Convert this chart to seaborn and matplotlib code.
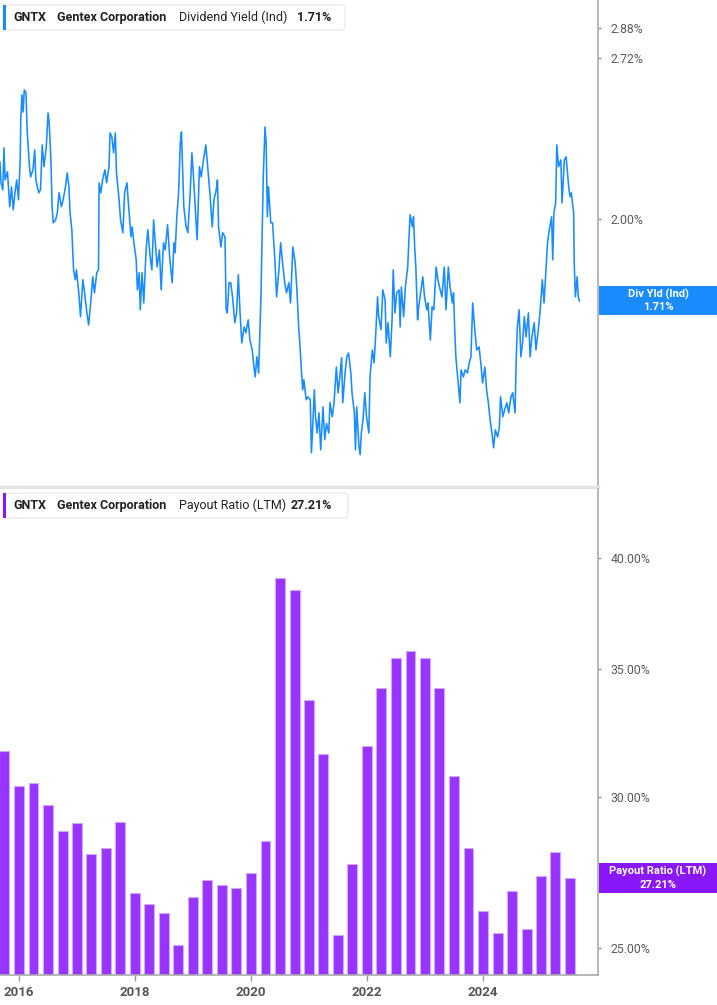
import pandas as pd
import matplotlib
matplotlib.use("Agg")
import matplotlib.pyplot as plt
import seaborn as sns
from matplotlib.patches import FancyBboxPatch, Rectangle
from matplotlib.ticker import NullLocator

# Dividend yield (indicated), % -- x in decimal years
div_years = [
    2015.67, 2015.69, 2015.72, 2015.74, 2015.76, 2015.80, 2015.82, 2015.84, 2015.87, 2015.90,
    2015.93, 2015.96, 2015.99, 2016.02, 2016.03, 2016.05, 2016.07, 2016.09, 2016.12, 2016.14,
    2016.18, 2016.20, 2016.24, 2016.27, 2016.29, 2016.34, 2016.37, 2016.40, 2016.43, 2016.47,
    2016.50, 2016.52, 2016.55, 2016.57, 2016.59, 2016.63, 2016.66, 2016.69, 2016.73, 2016.76,
    2016.80, 2016.83, 2016.86, 2016.88, 2016.91, 2016.94, 2016.97, 2016.99, 2017.03, 2017.06,
    2017.10, 2017.13, 2017.17, 2017.20, 2017.24, 2017.27, 2017.30, 2017.34, 2017.37, 2017.38,
    2017.41, 2017.44, 2017.48, 2017.51, 2017.55, 2017.57, 2017.60, 2017.63, 2017.66, 2017.68,
    2017.72, 2017.75, 2017.79, 2017.82, 2017.86, 2017.89, 2017.93, 2017.95, 2017.98, 2018.02,
    2018.04, 2018.07, 2018.09, 2018.12, 2018.15, 2018.19, 2018.22, 2018.26, 2018.29, 2018.32,
    2018.35, 2018.38, 2018.42, 2018.45, 2018.49, 2018.52, 2018.56, 2018.60, 2018.64, 2018.67,
    2018.69, 2018.72, 2018.75, 2018.78, 2018.80, 2018.82, 2018.84, 2018.88, 2018.91, 2018.95,
    2018.98, 2019.00, 2019.04, 2019.07, 2019.11, 2019.14, 2019.18, 2019.22, 2019.26, 2019.29,
    2019.33, 2019.36, 2019.40, 2019.42, 2019.44, 2019.48, 2019.51, 2019.55, 2019.57, 2019.59,
    2019.62, 2019.65, 2019.68, 2019.72, 2019.75, 2019.78, 2019.81, 2019.84, 2019.88, 2019.91,
    2019.95, 2019.98, 2020.02, 2020.05, 2020.07, 2020.10, 2020.13, 2020.17, 2020.19, 2020.21,
    2020.24, 2020.26, 2020.28, 2020.30, 2020.34, 2020.37, 2020.41, 2020.44, 2020.48, 2020.51,
    2020.55, 2020.58, 2020.61, 2020.65, 2020.68, 2020.72, 2020.76, 2020.79, 2020.82, 2020.84,
    2020.87, 2020.89, 2020.91, 2020.95, 2020.98, 2021.02, 2021.04, 2021.06, 2021.09, 2021.11,
    2021.14, 2021.17, 2021.20, 2021.24, 2021.27, 2021.30, 2021.34, 2021.36, 2021.40, 2021.43,
    2021.47, 2021.50, 2021.53, 2021.56, 2021.58, 2021.62, 2021.65, 2021.68, 2021.72, 2021.74,
    2021.78, 2021.80, 2021.82, 2021.86, 2021.88, 2021.90, 2021.93, 2021.96, 2021.99, 2022.03,
    2022.05, 2022.09, 2022.12, 2022.15, 2022.18, 2022.20, 2022.24, 2022.27, 2022.31, 2022.33,
    2022.36, 2022.40, 2022.43, 2022.45, 2022.48, 2022.51, 2022.55, 2022.57, 2022.59, 2022.63,
    2022.66, 2022.70, 2022.72, 2022.74, 2022.78, 2022.80, 2022.82, 2022.84, 2022.87, 2022.89,
    2022.93, 2022.96, 2022.99, 2023.03, 2023.05, 2023.09, 2023.12, 2023.15, 2023.19, 2023.22,
    2023.26, 2023.29, 2023.33, 2023.36, 2023.40, 2023.43, 2023.47, 2023.49, 2023.51, 2023.53,
    2023.57, 2023.60, 2023.62, 2023.66, 2023.69, 2023.73, 2023.76, 2023.79, 2023.82, 2023.86,
    2023.89, 2023.93, 2023.96, 2023.99, 2024.03, 2024.06, 2024.09, 2024.12, 2024.16, 2024.18,
    2024.21, 2024.25, 2024.28, 2024.30, 2024.34, 2024.37, 2024.41, 2024.44, 2024.48, 2024.51,
    2024.55, 2024.57, 2024.59, 2024.62, 2024.65, 2024.68, 2024.71, 2024.74, 2024.78, 2024.81,
    2024.84, 2024.88, 2024.91, 2024.95, 2024.98, 2025.02, 2025.05, 2025.09, 2025.11, 2025.14,
    2025.18, 2025.20, 2025.22, 2025.25, 2025.27, 2025.30, 2025.34, 2025.36, 2025.40, 2025.43,
    2025.45, 2025.48, 2025.50, 2025.52, 2025.56, 2025.57, 2025.59, 2025.62, 2025.64, 2025.66,
]
div_yield = [
    2.230, 2.142, 2.114, 2.290, 2.154, 2.188, 2.114, 2.047, 2.126, 2.035,
    2.102, 2.154, 2.074, 2.238, 2.415, 2.533, 2.452, 2.557, 2.543, 2.369,
    2.209, 2.167, 2.196, 2.281, 2.154, 2.102, 2.114, 2.303, 2.209, 2.294,
    2.447, 2.401, 2.238, 2.047, 1.985, 1.996, 2.023, 2.102, 2.047, 2.074,
    2.126, 2.183, 2.126, 2.023, 1.959, 1.815, 1.781, 1.815, 1.737, 1.660,
    1.781, 1.737, 1.672, 1.634, 1.714, 1.791, 1.737, 1.805, 1.815, 2.142,
    2.102, 2.154, 2.196, 2.142, 2.209, 2.356, 2.338, 2.268, 2.356, 2.183,
    2.086, 1.996, 1.948, 2.102, 2.142, 2.047, 1.933, 1.970, 1.911, 1.850,
    1.747, 1.805, 1.682, 1.805, 1.704, 1.885, 1.959, 1.860, 1.815, 1.996,
    1.911, 1.825, 1.885, 1.747, 1.911, 1.885, 1.978, 1.850, 1.771, 1.911,
    1.875, 2.008, 2.102, 2.312, 2.360, 2.196, 2.047, 1.970, 1.948, 2.102,
    2.268, 2.196, 2.035, 1.922, 2.209, 2.167, 2.238, 2.303, 2.183, 2.102,
    1.970, 2.074, 2.114, 2.154, 1.970, 1.896, 1.948, 1.933, 1.682, 1.672,
    1.771, 1.771, 1.724, 1.641, 1.672, 1.798, 1.672, 1.579, 1.628, 1.610,
    1.650, 1.588, 1.558, 1.508, 1.480, 1.538, 1.491, 1.724, 1.933, 2.167,
    2.383, 2.312, 2.008, 2.126, 1.985, 1.985, 1.850, 1.724, 1.815, 1.911,
    1.825, 1.771, 1.737, 1.771, 1.704, 1.896, 1.839, 1.747, 1.628, 1.579,
    1.491, 1.444, 1.472, 1.417, 1.425, 1.417, 1.281, 1.338, 1.444, 1.372,
    1.330, 1.382, 1.288, 1.398, 1.313, 1.354, 1.330, 1.409, 1.372, 1.409,
    1.508, 1.436, 1.480, 1.535, 1.409, 1.491, 1.538, 1.549, 1.491, 1.436,
    1.382, 1.288, 1.398, 1.296, 1.276, 1.330, 1.364, 1.436, 1.372, 1.330,
    1.480, 1.558, 1.520, 1.610, 1.724, 1.660, 1.619, 1.747, 1.714, 1.579,
    1.641, 1.538, 1.650, 1.815, 1.672, 1.737, 1.747, 1.628, 1.757, 1.660,
    1.757, 1.825, 1.922, 2.016, 1.970, 2.008, 1.896, 1.825, 1.650, 1.692,
    1.747, 1.791, 1.724, 1.682, 1.704, 1.588, 1.692, 1.682, 1.825, 1.781,
    1.747, 1.724, 1.825, 1.682, 1.825, 1.757, 1.704, 1.737, 1.619, 1.538,
    1.463, 1.409, 1.500, 1.480, 1.500, 1.491, 1.520, 1.538, 1.704, 1.610,
    1.558, 1.567, 1.520, 1.463, 1.508, 1.444, 1.409, 1.364, 1.320, 1.293,
    1.338, 1.320, 1.346, 1.425, 1.372, 1.390, 1.409, 1.382, 1.425, 1.436,
    1.382, 1.529, 1.628, 1.682, 1.538, 1.579, 1.660, 1.597, 1.672, 1.538,
    1.597, 1.641, 1.558, 1.619, 1.672, 1.781, 1.704, 1.839, 1.911, 1.959,
    2.008, 1.850, 2.023, 2.062, 2.303, 2.209, 2.238, 2.062, 2.238, 2.251,
    2.196, 2.114, 2.086, 2.102, 2.023, 1.839, 1.724, 1.791, 1.724, 1.710,
]

# Payout ratio (LTM), %, one bar per fiscal quarter end
quarter_ends = pd.date_range("2015-09-30", "2025-06-30", freq="QE")
payout_ratio = [
    31.70, 30.40, 30.50, 29.70, 28.80, 29.05, 27.99, 28.19, 29.09, 26.70,
    26.35, 26.08, 25.09, 26.59, 27.12, 26.96, 26.87, 27.36, 28.43, 39.06,
    38.47, 33.69, 31.60, 25.40, 27.65, 31.90, 34.20, 35.44, 35.76, 35.44,
    34.22, 30.75, 28.21, 26.13, 25.45, 26.78, 25.59, 27.27, 28.06, 27.21,
]

yield_ticks = [2.00, 2.72, 2.88]
payout_ticks = [25, 30, 35, 40]
year_ticks = [2016, 2018, 2020, 2022, 2024]

BLUE = "#1a8cff"
PURPLE = "#9933ff"
PURPLE_DARK = "#8a17f7"

sns.set_style("white")
plt.rcParams["font.family"] = ["Roboto", "DejaVu Sans"]

W, H = 717, 1005
fig = plt.figure(figsize=(W / 100, H / 100), dpi=100)


def px_box(x0, y0, x1, y1):
    return [x0 / W, 1 - y1 / H, (x1 - x0) / W, (y1 - y0) / H]


ax1 = fig.add_axes(px_box(0, 0, 598, 487))
ax2 = fig.add_axes(px_box(0, 489, 598, 975))
xlim = (2015.672, 2025.98)

# top: dividend yield line
sns.lineplot(x=div_years, y=div_yield, ax=ax1, color=BLUE, linewidth=1.15,
             estimator=None, sort=False)
ax1.set_yscale("log")
ax1.set_ylim(1.20, 3.035)
ax1.set_xlim(*xlim)
ax1.set_xticks([])

# bottom: payout ratio bars
qyears = [d.year + d.dayofyear / 365.25 for d in quarter_ends]
df = pd.DataFrame({"t": qyears, "ratio": payout_ratio})
sns.barplot(data=df, x="t", y="ratio", ax=ax2, native_scale=True, color=PURPLE,
            saturation=1, width=0.7, edgecolor="#cfa8ff", linewidth=0.8, errorbar=None)
ax2.set_yscale("log")
ax2.set_ylim(24.2, 43.47)
ax2.set_xlim(*xlim)
ax2.set_xticks(year_ticks)
ax2.set_xticklabels([str(y) for y in year_ticks], fontweight="bold", color="#555555", fontsize=9.5)
ax2.tick_params(axis="x", direction="out", length=4, width=1, color="#999999", pad=4, bottom=True)

for ax, ticks in ((ax1, yield_ticks), (ax2, payout_ticks)):
    ax.set_xlabel("")
    ax.set_ylabel("")
    ax.yaxis.tick_right()
    ax.yaxis.set_minor_locator(NullLocator())
    ax.set_yticks(ticks)
    ax.set_yticklabels([f"{t:.2f}%" for t in ticks])
    ax.tick_params(axis="y", which="major", direction="out", length=2, width=1,
                   color="#999999", labelcolor="#5a5a5a", labelsize=8.8, pad=7,
                   left=False, right=True)
    ax.spines["top"].set_visible(False)
    ax.spines["left"].set_visible(False)
    ax.spines["right"].set_color("#aaaaaa")
    ax.spines["right"].set_linewidth(1.2)
    ax.grid(False)

ax1.spines["bottom"].set_color("#e2e2e2")
ax1.spines["bottom"].set_linewidth(2.5)
ax2.spines["bottom"].set_color("#aaaaaa")
ax2.spines["bottom"].set_linewidth(1.2)


def legend_box(y0, y1, x1, color, parts):
    fig.patches.append(FancyBboxPatch((3 / W, 1 - y1 / H), (x1 - 3) / W, (y1 - y0) / H,
                                      boxstyle="round,pad=0,rounding_size=0.004",
                                      transform=fig.transFigure, facecolor="white",
                                      edgecolor="#e6e6e6", linewidth=0.8, zorder=5))
    fig.patches.append(Rectangle((3 / W, 1 - y1 / H), 3 / W, (y1 - y0) / H,
                                 transform=fig.transFigure, facecolor=color,
                                 edgecolor="none", zorder=6))
    yc = 1 - (y0 + y1) / 2 / H
    for x, text, weight in parts:
        fig.text(x / W, yc, text, fontsize=9, fontweight=weight, color="#222222",
                 ha="left", va="center", zorder=7)


def value_tag(y0, y1, color, line1, line2):
    fig.patches.append(Rectangle((599 / W, 1 - y1 / H), 118 / W, (y1 - y0) / H,
                                 transform=fig.transFigure, facecolor=color,
                                 edgecolor="none", zorder=5))
    yc = (y0 + y1) / 2
    fig.text(658 / W, 1 - (yc - 6.5) / H, line1, fontsize=8, fontweight="bold",
             color="white", ha="center", va="center", zorder=6)
    fig.text(658 / W, 1 - (yc + 6.5) / H, line2, fontsize=8, fontweight="bold",
             color="white", ha="center", va="center", zorder=6)


legend_box(5, 30, 345, BLUE, [(13, "GNTX", "bold"), (57, "Gentex Corporation", "bold"),
                              (179, "Dividend Yield (Ind)", "normal"), (297, "1.71%", "bold")])
legend_box(493, 518, 348, PURPLE_DARK, [(13, "GNTX", "bold"), (57, "Gentex Corporation", "bold"),
                                        (179, "Payout Ratio (LTM)", "normal"), (291, "27.21%", "bold")])

value_tag(286, 315, BLUE, "Div Yld (Ind)", "1.71%")
value_tag(863, 893, PURPLE_DARK, "Payout Ratio (LTM)", "27.21%")

fig.savefig("out.png", dpi=100)
